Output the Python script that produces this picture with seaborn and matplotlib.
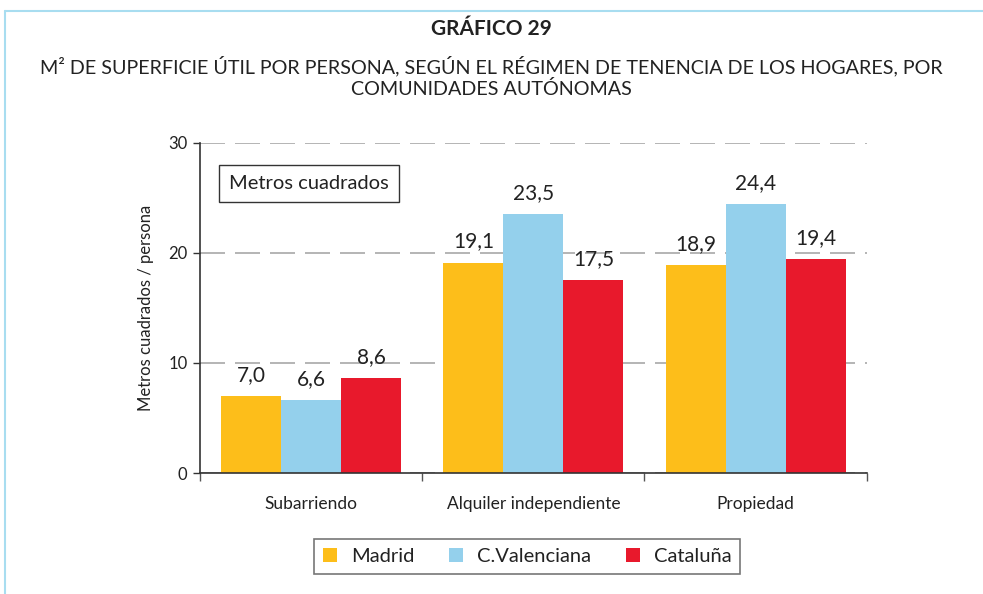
import seaborn as sns
import matplotlib.pyplot as plt
import pandas as pd
from matplotlib.patches import Patch
from matplotlib.lines import Line2D

categorias = ['Subarriendo', 'Alquiler independiente', 'Propiedad']
regiones = ['Madrid', 'C.Valenciana', 'Cataluña']
madrid = [7.0, 19.1, 18.9]
valenciana = [6.6, 23.5, 24.4]
cataluna = [8.6, 17.5, 19.4]
colores = ['#FDBE1A', '#94D0EC', '#E8192C']

df = pd.DataFrame({
    'categoria': categorias * 3,
    'region': [r for r in regiones for _ in categorias],
    'valor': madrid + valenciana + cataluna,
})

sns.set_style('white')
plt.rcParams['font.family'] = ['Lato', 'DejaVu Sans']
txt = '#222222'

fig = plt.figure(figsize=(9.83, 5.94), dpi=100)
ax = fig.add_axes([0.2035, 0.2037, 0.6782, 0.5561])

sns.barplot(data=df, x='categoria', y='valor', hue='region', order=categorias,
            hue_order=regiones, palette=colores, width=0.81, saturation=1,
            edgecolor='none', linewidth=0, ax=ax, legend=False)

for cont in ax.containers:
    ax.bar_label(cont, labels=[f'{v:.1f}'.replace('.', ',') for v in cont.datavalues],
                 padding=8, fontsize=15, color=txt)

ax.set_ylim(0, 30)
ax.set_xlim(-0.5, 2.5)
ax.set_yticks([0, 10, 20, 30])
ax.yaxis.grid(True, color='#A8A8A8', linewidth=1.2, dashes=(15, 6))
ax.set_axisbelow(True)
ax.xaxis.grid(False)
for s in ['top', 'right']:
    ax.spines[s].set_visible(False)
for s in ['left', 'bottom']:
    ax.spines[s].set_color('#333333')
    ax.spines[s].set_linewidth(1.2)

ax.tick_params(axis='y', which='major', left=True, length=5, width=1, color='#333333',
               labelsize=12, labelcolor=txt, pad=4)
ax.tick_params(axis='x', which='major', bottom=False, labelsize=12.5, labelcolor=txt, pad=13)
ax.set_xticks([-0.5, 0.5, 1.5, 2.5], minor=True)
ax.tick_params(axis='x', which='minor', bottom=True, length=6, width=1, color='#555555')
ax.set_xlabel('')
ax.set_ylabel('Metros cuadrados / persona', fontsize=12, color=txt, labelpad=10)

ax.text(0.043, 0.877, 'Metros cuadrados', transform=ax.transAxes, fontsize=14.5,
        color=txt, va='center', ha='left',
        bbox=dict(boxstyle='square,pad=0.5', fc='white', ec='#333333', lw=1))

handles = [Patch(facecolor=c, edgecolor='none') for c in colores]
leg = fig.legend(handles, regiones, loc='center', bbox_to_anchor=(0.5365, 0.0636), ncol=3,
                 fontsize=14.5, frameon=True, fancybox=False, handlelength=0.7,
                 handleheight=0.7, handletextpad=0.7, columnspacing=1.7,
                 borderpad=0.45, labelcolor=txt)
leg.get_frame().set_edgecolor('#555555')
leg.get_frame().set_linewidth(1.2)

fig.text(0.5, 0.951, 'GRÁFICO 29', ha='center', va='center', fontsize=15,
         fontweight='bold', color=txt)
fig.text(0.5, 0.888, 'M² DE SUPERFICIE ÚTIL POR PERSONA, SEGÚN EL RÉGIMEN DE TENENCIA DE LOS HOGARES, POR',
         ha='center', va='center', fontsize=14.2, color=txt)
fig.text(0.5, 0.850, 'COMUNIDADES AUTÓNOMAS', ha='center', va='center', fontsize=14.2, color=txt)

fig.add_artist(Line2D([5 / 983, 1], [1 - 11 / 594] * 2, transform=fig.transFigure,
                      color='#A8DDF0', lw=1.5))
fig.add_artist(Line2D([5 / 983] * 2, [0, 1 - 11 / 594], transform=fig.transFigure,
                      color='#A8DDF0', lw=1.5))

fig.savefig('out.png', dpi=100)
